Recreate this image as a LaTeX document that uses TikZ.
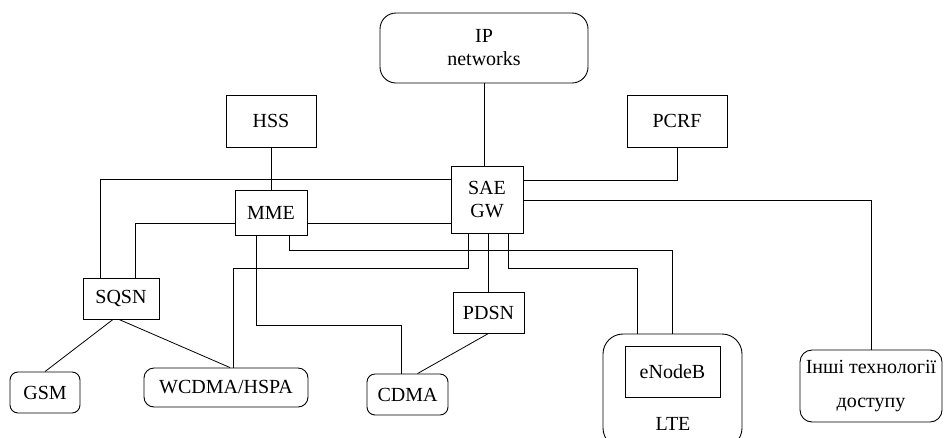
\documentclass[tikz,border=0pt]{standalone}
\usepackage{fontspec}
\setmainfont{Liberation Serif}
\usetikzlibrary{calc}

\tikzset{
  box/.style={draw, line width=0.9pt, inner sep=0pt, align=center,
              font=\fontsize{20}{23}\selectfont},
  rbox/.style={box, rounded corners=12pt},
  link/.style={line width=0.8pt}
}

% place a box by its top-left and bottom-right corners (in px, y downwards)
\newcommand{\boxat}[6]{%
  \node[#1, minimum width=#5-#3, minimum height=#6-#4] (#2)
    at ({(#3+#5)/2},{(#4+#6)/2}) {};}

\begin{document}
\begin{tikzpicture}[x=1pt,y=-1pt]
\useasboundingbox (0,0) rectangle (944,437);

% ---- boxes ----
\node[rbox, minimum width=208pt, minimum height=70pt, rounded corners=16pt] (ip) at (484,48) {IP\\networks};
\node[box, minimum width=90pt, minimum height=52pt] (hss) at (271,121) {HSS};
\node[box, minimum width=100pt, minimum height=52pt] (pcrf) at (677,121) {PCRF};
\node[box, minimum width=72pt, minimum height=67pt] (sae) at (487,199.5) {SAE\\GW};
\node[box, minimum width=72pt, minimum height=45pt] (mme) at (271,212.5) {MME};
\node[box, minimum width=76pt, minimum height=41pt] (sqsn) at (121,298.5) {SQSN};
\node[box, minimum width=71pt, minimum height=41pt] (pdsn) at (488.5,312.5) {PDSN};
\node[rbox, minimum width=70pt, minimum height=41pt, rounded corners=8pt] (gsm) at (45,392.5) {GSM};
\node[rbox, minimum width=164pt, minimum height=39pt, rounded corners=10pt] (wcdma) at (226,387.5) {WCDMA/HSPA};
\node[rbox, minimum width=81pt, minimum height=41pt, rounded corners=8pt] (cdma) at (407.5,394.5) {CDMA};
\node[rbox, minimum width=139pt, minimum height=114pt, rounded corners=20pt] (lte) at (672.5,391) {};
\node[box, minimum width=95pt, minimum height=51pt] (enb) at (672.5,371.5) {eNodeB};
\node[font=\fontsize{20}{23}\selectfont, anchor=base] (ltelbl) at (673,430) {LTE};
\node[rbox, minimum width=142pt, minimum height=72pt, rounded corners=12pt,
      font=\fontsize{20}{34}\selectfont] (other) at (871,386) {Інші технології\\доступу};

% ---- routing levels and columns ----
\coordinate (yA) at (0,179);
\coordinate (yB) at (0,223);
\coordinate (yR1) at (0,180);
\coordinate (yR2) at (0,200);
\coordinate (yC) at (0,250);
\coordinate (yD) at (0,268);
\coordinate (yF) at (0,325);
\coordinate (xA) at (100,0);
\coordinate (xB) at (135,0);
\coordinate (xM1) at (256,0);
\coordinate (xM2) at (289,0);
\coordinate (xS1) at (468,0);
\coordinate (xS3) at (508,0);
\coordinate (xW) at (233,0);
\coordinate (xC) at (401,0);
\coordinate (xL1) at (637,0);
\coordinate (xL2) at (672,0);

% ---- connectors ----
\draw[link] (ip.south) -- (ip.south |- sae.north);
\draw[link] (hss.south) -- (mme.north);
\draw[link] (sae.west |- yA) -| (xA |- sqsn.north);
\draw[link] (mme.west |- yB) -| (xB |- sqsn.north);
\draw[link] (mme.east |- yB) -- (sae.west |- yB);
\draw[link] (sae.east |- yR1) -| (pcrf.south);
\draw[link] (sae.east |- yR2) -| (other.north);
\draw[link] (xM2 |- mme.south) |- (xL2 |- yC) -- (xL2 |- lte.north);
\draw[link] (xS1 |- sae.south) |- (xW |- yD) -- (xW |- wcdma.north);
\draw[link] (pdsn.north |- sae.south) -- (pdsn.north);
\draw[link] (xS3 |- sae.south) |- (xL1 |- yD) -- (xL1 |- lte.north);
\draw[link] (xM1 |- mme.south) |- (xC |- yF) -- (xC |- cdma.north);
\draw[link] ([xshift=-8pt]sqsn.south) -- (gsm.north);
\draw[link] ([xshift=-2pt]sqsn.south) -- ([xshift=-3pt]xW |- wcdma.north);
\draw[link] (pdsn.south) -- ([xshift=10pt]cdma.north);
\end{tikzpicture}
\end{document}
